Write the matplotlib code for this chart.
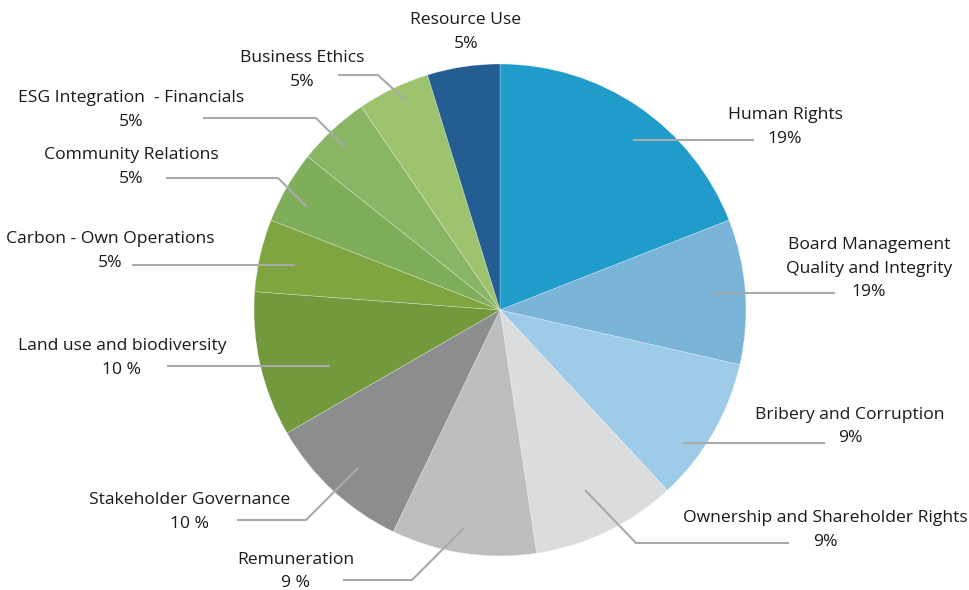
import matplotlib
matplotlib.use("Agg")
import matplotlib.pyplot as plt

# slice data, clockwise from 12 o'clock (counts; the printed % labels are as shown on the chart)
categories = [
    "Human Rights",
    "Board Management\nQuality and Integrity",
    "Bribery and Corruption",
    "Ownership and Shareholder Rights",
    "Remuneration",
    "Stakeholder Governance",
    "Land use and biodiversity",
    "Carbon - Own Operations",
    "Community Relations",
    "ESG Integration  - Financials",
    "Business Ethics",
    "Resource Use",
]
values = [4, 2, 2, 2, 2, 2, 2, 1, 1, 1, 1, 1]
pct_labels = ["19%", "19%", "9%", "9%", "9 %", "10 %", "10 %", "5%", "5%", "5%", "5%", "5%"]
colors = ["#1f9cca", "#7ab4d8", "#9dcbe8", "#dbdcde", "#bdbec0", "#8c8d8f",
          "#73993d", "#7fa540", "#7fae5a", "#8ab565", "#9dc36e", "#235d91"]

W, H = 970, 590
# label layout in pixel coords (x center, y of first line) and leader paths
label_pos = [(785, 115), (869, 245), (850, 415), (825, 518), (296, 560), (190, 500),
             (122, 346), (110, 239), (131, 155), (131, 98), (302, 58), (466, 20)]
leaders = [
    [(633, 140), (754, 140)],
    [(714, 293), (835, 293)],
    [(683, 443), (825, 443)],
    [(585, 490), (636, 543), (789, 543)],
    [(464, 528), (412, 580), (343, 580)],
    [(358, 468), (306, 520), (237, 520)],
    [(330, 366), (167, 366)],
    [(295, 265), (132, 265)],
    [(307, 207), (278, 178), (166, 178)],
    [(345, 147), (316, 118), (203, 118)],
    [(405, 100), (378, 75), (338, 75)],
    [],
]

plt.rcParams["font.family"] = ["Open Sans", "DejaVu Sans"]

fig = plt.figure(figsize=(W / 100, H / 100), dpi=100)
ax = fig.add_axes([0, 0, 1, 1])

ax.pie(values, colors=colors, startangle=90, counterclock=False,
       center=(500, H - 310), radius=246, frame=True,
       wedgeprops=dict(edgecolor=(1, 1, 1, 0.45), linewidth=0.4))
ax.set_xlim(0, W)
ax.set_ylim(0, H)
ax.set_aspect("equal")
ax.axis("off")

line_h = 23.5
for name, pct, (x, y), path in zip(categories, pct_labels, label_pos, leaders):
    lines = name.split("\n") + [pct]
    for i, t in enumerate(lines):
        ax.text(x, H - (y + i * line_h), t, ha="center", va="center",
                fontsize=12.6, color="#1a1a1a")
    if path:
        xs = [p[0] for p in path]
        ys = [H - p[1] for p in path]
        ax.plot(xs, ys, color="#a8a9ab", linewidth=1.5, solid_capstyle="butt")

fig.savefig("out.png", dpi=100)
plt.close(fig)
